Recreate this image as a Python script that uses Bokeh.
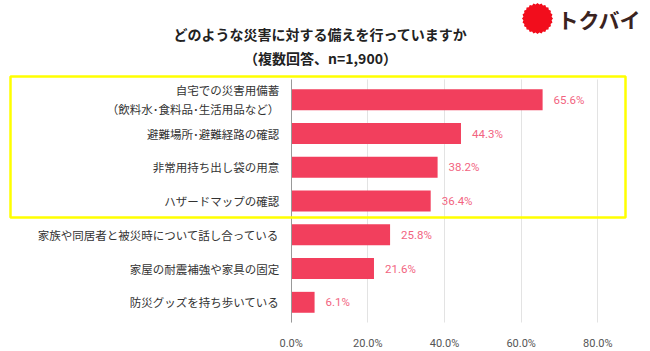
import numpy as np
from bokeh.plotting import figure
from bokeh.models import (Range1d, FixedTicker, Label, BoxAnnotation,
                          PolyAnnotation, ColumnDataSource)
from bokeh.core.properties import value
from bokeh.embed import file_html
from bokeh.resources import INLINE

categories = [
    "自宅での災害用備蓄\n（飲料水･食料品･生活用品など）",
    "避難場所･避難経路の確認",
    "非常用持ち出し袋の用意",
    "ハザードマップの確認",
    "家族や同居者と被災時について話し合っている",
    "家屋の耐震補強や家具の固定",
    "防災グッズを持ち歩いている",
]
values = [65.6, 44.3, 38.2, 36.4, 25.8, 21.6, 6.1]
tick_values = [0, 20, 40, 60, 80]
tick_labels = ["0.0%", "20.0%", "40.0%", "60.0%", "80.0%"]
title_text = "どのような災害に対する備えを行っていますか\n（複数回答、n=1,900）"
logo_text = "トクバイ"

JP = "Noto Sans CJK JP"
BAR = "#f23f5d"
LBL = "#f2647f"

W, H = 650, 351
# pixel geometry of the plotting area (frame covers the whole canvas)
X0_PX, PX_PER_PCT = 290.7, 3.8325
ROW0_PX, ROW_PX = 99.3, 33.75

rows = list(range(len(categories)))
src = ColumnDataSource(dict(row=rows, val=values,
                            txt=[f"{v:.1f}%" for v in values]))

x_range = Range1d(-X0_PX / PX_PER_PCT, (W - X0_PX) / PX_PER_PCT)
y_range = Range1d((H - ROW0_PX) / ROW_PX, -ROW0_PX / ROW_PX)
y_lo, y_hi = -0.6, len(categories) - 0.4

p = figure(width=W, height=H, output_backend="svg", toolbar_location=None,
           x_range=x_range, y_range=y_range,
           min_border=0, min_border_left=0, min_border_right=0,
           min_border_top=0, min_border_bottom=0)
p.outline_line_color = None
p.background_fill_color = "white"
p.border_fill_color = "white"

p.hbar(y="row", right="val", left=0, height=0.62, source=src, color=BAR, line_color=None)
p.text(x="val", y="row", text="txt", source=src, x_offset=11, text_align="left",
       text_baseline="middle", text_color=LBL, text_font_size="11.5px",
       text_font=value("Roboto"))

# axes (fixed inside the frame)
xa = p.xaxis[0]
xa.fixed_location = y_hi
xa.ticker = FixedTicker(ticks=tick_values)
xa.major_label_overrides = {t: l for t, l in zip(tick_values, tick_labels)}
xa.axis_line_color = None
xa.major_tick_line_color = None
xa.minor_tick_line_color = None
xa.major_label_text_font_size = "11px"
xa.major_label_text_color = "#555555"
xa.major_label_text_font = "Roboto"
xa.major_label_standoff = 8

ya = p.yaxis[0]
ya.fixed_location = 0
ya.bounds = (y_lo, y_hi)
ya.ticker = FixedTicker(ticks=rows)
ya.major_label_overrides = {r: c for r, c in zip(rows, categories)}
ya.axis_line_color = "#999999"
ya.major_tick_line_color = None
ya.minor_tick_line_color = None
ya.major_label_text_font_size = "11.5px"
ya.major_label_text_color = "#333333"
ya.major_label_text_font = JP
ya.major_label_text_align = "right"
ya.major_label_standoff = 6

p.xgrid.ticker = FixedTicker(ticks=tick_values)
p.xgrid.cross_bounds = (y_lo, y_hi)
p.xgrid.grid_line_color = "#e3e3e3"
p.ygrid.grid_line_color = None

# title
p.add_layout(Label(x=320, y=45.5, x_units="canvas", y_units="canvas", text=title_text,
                   text_align="center", text_baseline="middle", text_font=JP,
                   text_font_style="bold", text_font_size="14px", text_color="#222222",
                   text_line_height=1.2))

# yellow highlight box
p.add_layout(BoxAnnotation(left=10, right=625, top=76, bottom=217,
                           left_units="canvas", right_units="canvas",
                           top_units="canvas", bottom_units="canvas",
                           fill_color=None, fill_alpha=0, line_color="#ffff00",
                           line_alpha=1.0, line_width=2.5))

# logo
ang = np.linspace(0, 2 * np.pi, 49)[:-1]
rad = np.where(np.arange(48) % 2 == 0, 15.5, 14.2)
p.add_layout(PolyAnnotation(xs=list(537 + rad * np.cos(ang)), ys=list(18 + rad * np.sin(ang)),
                            xs_units="canvas", ys_units="canvas",
                            fill_color="#f20d1c", fill_alpha=1.0, line_color=None))
p.add_layout(Label(x=599, y=18.5, x_units="canvas", y_units="canvas", text=logo_text,
                   text_align="center", text_baseline="middle", text_font=JP,
                   text_font_style="bold", text_font_size="21px", text_color="#3a2320"))

open("out.html", "w").write(file_html(p, INLINE))
